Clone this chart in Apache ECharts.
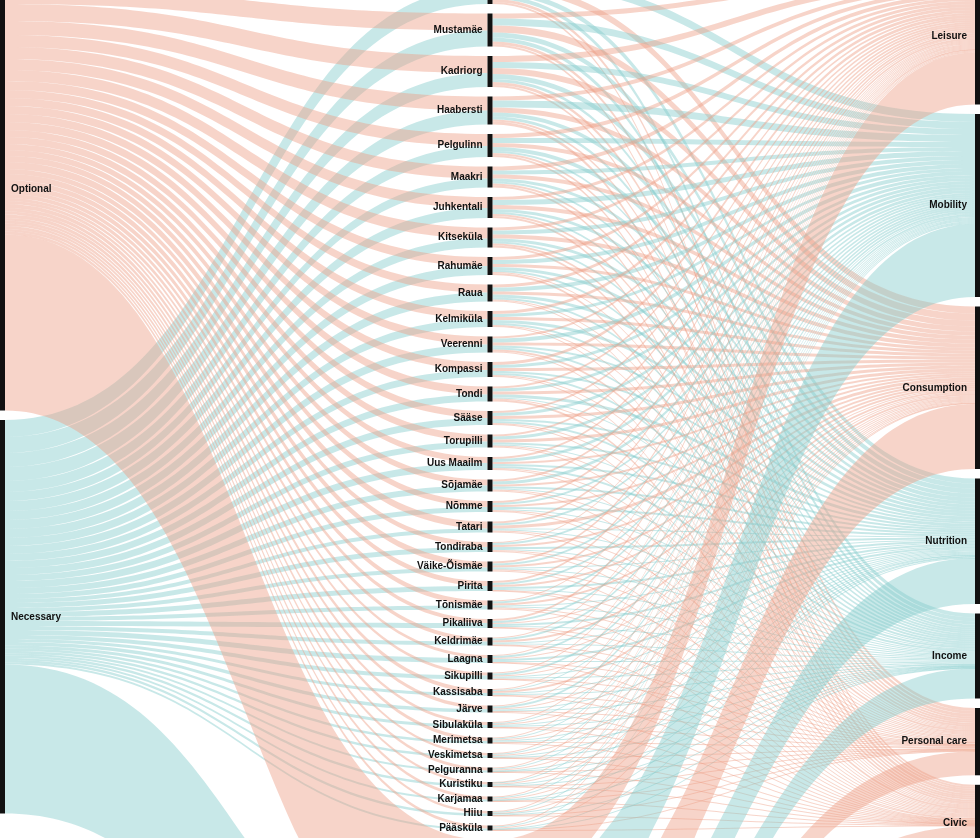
<!DOCTYPE html>
<html>
<head>
<meta charset="utf-8">
<script src="https://cdn.jsdelivr.net/npm/echarts@6/dist/echarts.min.js"></script>
<style>html,body{margin:0;padding:0;background:#fff}#chart{width:980px;height:838px}</style>
</head>
<body>
<div id="chart"></div>
<script>
const classes = ['Optional', 'Necessary']
const categories = ['Leisure', 'Mobility', 'Consumption', 'Nutrition', 'Income', 'Personal care', 'Civic']
const categoryClass = ['Optional', 'Necessary', 'Optional', 'Necessary', 'Necessary', 'Optional', 'Optional']
const districts = ['Kesklinn', 'Mustamäe', 'Kadriorg', 'Haabersti', 'Pelgulinn', 'Maakri', 'Juhkentali', 'Kitseküla',
  'Rahumäe', 'Raua', 'Kelmiküla', 'Veerenni', 'Kompassi', 'Tondi', 'Sääse', 'Torupilli', 'Uus Maailm', 'Sõjamäe',
  'Nõmme', 'Tatari', 'Tondiraba', 'Väike-Õismäe', 'Pirita', 'Tõnismäe', 'Pikaliiva', 'Keldrimäe', 'Laagna',
  'Sikupilli', 'Kassisaba', 'Järve', 'Sibulaküla', 'Merimetsa', 'Veskimetsa', 'Pelguranna', 'Kuristiku',
  'Karjamaa', 'Hiiu', 'Pääsküla']
// per district: Leisure, Mobility, Consumption, Nutrition, Income, Personal care, Civic
const districtFlows = [
  [7,8,7,5,4,3,2], [5,7,7,5,4,3,2], [6,6,6,5,3,3,2], [4,7,5,4,3,2,3], [4,5,4,4,2,2,2],
  [4,4,4,3,2,2,2], [3,5,4,3,2,2,2], [3,4,4,3,2,2,2], [3,4,3,3,2,1,2], [3,4,3,3,2,1,1],
  [3,3,3,3,2,1,1], [2,4,3,2,2,2,1], [3,3,3,2,2,1,1], [2,3,3,3,1,1,2], [2,3,3,2,2,1,1],
  [2,3,3,2,1,1,1], [2,3,2,2,2,1,1], [2,3,2,2,1,1,1], [2,2,2,2,1,1,1], [2,2,3,1,1,1,1],
  [1,2,2,2,1,1,1], [2,2,2,1,1,1,1], [2,2,2,2,1,0.5,0.5], [1,2,2,1,1,1,1], [2,2,1,2,1,0.5,0.5],
  [1,2,2,1,1,0.5,0.5], [1,2,1,2,1,0.5,0.5], [1,2,1,1,1,0.5,0.5], [1,1,2,1,1,0.5,0.5],
  [1,2,1,1,0.5,1,0.5], [1,1,1,1,1,0.5,0.5], [1,1,1,1,0.5,1,0.5], [1,1,1,1,0.5,0.3,0.2],
  [1,1,1,0.5,0.5,0.5,0.5], [0.5,1,1,1,0.5,0.5,0.5], [1,1,1,0.5,0.5,0.5,0.5],
  [1,1,0.5,1,0.5,0.5,0.5], [1,1,1,0.5,0.5,0.5,0.5]
]
// flows of the districts below the visible area, per category
const otherFlows = [52, 73, 65, 46, 30, 24, 35]

const colors = { Optional: '#ee9f88', Necessary: '#86cccd' }
const nodeLabel = { color: '#111', fontSize: 10, fontWeight: 'bold', fontFamily: 'Liberation Sans, Arial, sans-serif' }

const nodes = []
classes.forEach(c => nodes.push({ name: c, depth: 0, label: Object.assign({ position: 'right', distance: 6 }, nodeLabel) }))
districts.forEach(d => nodes.push({ name: d, depth: 1, label: Object.assign({ position: 'left', distance: 5 }, nodeLabel) }))
nodes.push({ name: 'other', depth: 1, label: { show: false } })
categories.forEach(c => nodes.push({ name: c, depth: 2, label: Object.assign({ position: 'left', distance: 8 }, nodeLabel) }))

const links = []
const allNames = districts.concat(['other'])
const allFlows = districtFlows.concat([otherFlows])
allNames.forEach((d, i) => {
  let opt = 0, nec = 0
  allFlows[i].forEach((v, j) => { if (categoryClass[j] === 'Optional') opt += v; else nec += v })
  links.push({ source: 'Optional', target: d, value: opt, lineStyle: { color: colors.Optional } })
  links.push({ source: 'Necessary', target: d, value: nec, lineStyle: { color: colors.Necessary } })
})
allNames.forEach((d, i) => {
  allFlows[i].forEach((v, j) => {
    links.push({ source: d, target: categories[j], value: v, lineStyle: { color: colors[categoryClass[j]] } })
  })
})

const chart = echarts.init(document.getElementById('chart'))
chart.setOption({
  animation: false,
  series: [{
    type: 'sankey',
    left: 0, right: 0, top: -32, bottom: -327,
    nodeWidth: 5,
    nodeGap: 9.5,
    layoutIterations: 0,
    draggable: false,
    emphasis: { disabled: true },
    itemStyle: { color: '#111', borderWidth: 0 },
    lineStyle: { opacity: 0.45, curveness: 0.5 },
    data: nodes,
    links: links
  }]
})
</script>
</body>
</html>
